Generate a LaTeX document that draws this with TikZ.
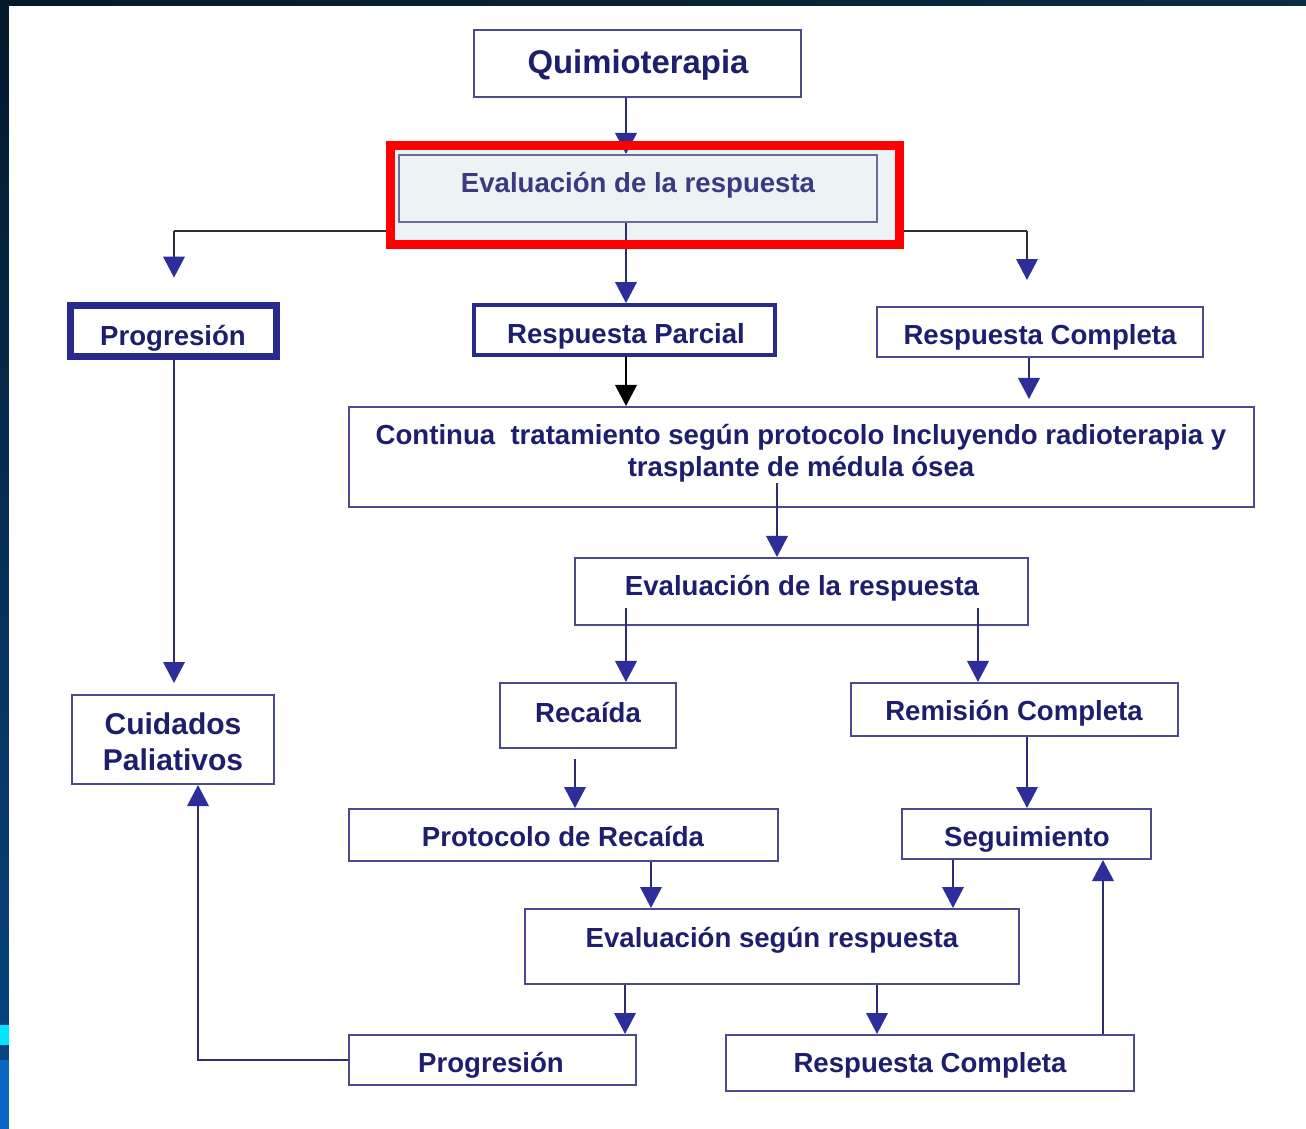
\documentclass[tikz,border=0pt]{standalone}
\usepackage{fontspec}
\setmainfont{Liberation Sans}
\usetikzlibrary{arrows.meta,fit,calc}

\definecolor{navytext}{HTML}{1E1E6E}
\definecolor{softtext}{HTML}{3A3A82}
\definecolor{boxline}{HTML}{4A4A8E}
\definecolor{boldline}{HTML}{2A2A8C}
\definecolor{arrowblue}{HTML}{2E2E9A}
\definecolor{linkline}{HTML}{2C2C70}
\definecolor{treeline}{HTML}{2E2E3A}
\definecolor{evalfill}{HTML}{EDF3F5}
\definecolor{evalline}{HTML}{6A6A9C}
\definecolor{slidedark}{HTML}{04182A}
\definecolor{slidetop}{HTML}{0A2C44}
\definecolor{stripblue}{HTML}{0A66C4}
\definecolor{stripcyan}{HTML}{00E6FF}
\definecolor{markred}{HTML}{FF0000}

\tikzset{
  box/.style={draw=boxline, line width=1.15pt, inner sep=0pt, rectangle},
  heavybox/.style={box, draw=boldline, line width=3.9pt},
  strongbox/.style={box, draw=boldline, line width=2.2pt},
  lbl/.style={anchor=base, inner sep=0pt, text=navytext,
    font=\bfseries\fontsize{15.7}{18}\selectfont},
  biglbl/.style={lbl, font=\bfseries\fontsize{18.7}{22}\selectfont},
  link/.style={draw=linkline, line width=1.15pt,
    -{Triangle[width=0.43cm,length=0.42cm,color=arrowblue]}},
  darklink/.style={link, draw=black, -{Triangle[width=0.43cm,length=0.42cm,color=black]}},
  treelink/.style={link, draw=treeline},
}

\begin{document}
\begin{tikzpicture}[x=0.02cm,y=-0.02cm]
\useasboundingbox (0,0) rectangle (1306,1129);

% slide frame behind the page
\fill[slidedark] (0,0) rectangle (1306,1129);
\shade[left color=slidedark, right color=slidetop] (0,0) rectangle (1306,6);
\shade[top color=slidedark, bottom color=stripblue!60!slidedark] (0,0) rectangle (9,1129);
\fill[stripcyan] (0,1025) rectangle (9,1045);
\fill[stripblue] (0,1060) rectangle (9,1129);
\fill[white] (9,6) rectangle (1306,1129);

% branching line under the first evaluation
\coordinate (split) at (626,231);
\coordinate (leftarm) at (174,231);
\coordinate (rightarm) at (1027,231);
\draw[treeline, line width=1.15pt] (leftarm) -- (rightarm);

% highlighted first evaluation
\node[fit={(390.5,145.5) (899.5,244.5)}, inner sep=0pt, fill=evalfill] (mark) {};

% boxes
\node[box, fit={(474,30) (801,97)}] (quim) {};
\node[box, draw=evalline, fill=evalfill, fit={(399,155) (877,222)}] (evt) {};
\node[heavybox, fit={(70.5,305.5) (276.5,356.5)}] (progt) {};
\node[strongbox, fit={(474,305) (775,355)}] (rp) {};
\node[box, fit={(877,307) (1203,357)}] (rct) {};
\node[box, fit={(349,407) (1254,507)}] (cont) {};
\node[box, fit={(575,558) (1028,625)}] (evm) {};
\node[box, fit={(500,683) (676,748)}] (rec) {};
\node[box, fit={(851,683) (1178,736)}] (rem) {};
\node[box, fit={(72,695) (274,784)}] (cuid) {};
\node[box, fit={(349,809) (778,861)}] (proto) {};
\node[box, fit={(902,809) (1151,859)}] (seg) {};
\node[box, fit={(525,909) (1019,984)}] (evs) {};
\node[box, fit={(349,1035) (636,1085)}] (progb) {};
\node[box, fit={(726,1035) (1134,1091)}] (rcb) {};

% labels
\node[biglbl] (quim-t) at (638,73) {Quimioterapia};
\node[lbl, text=softtext] (evt-t) at (638,192) {Evaluación de la respuesta};
\node[lbl] (progt-t) at (173,345) {Progresión};
\node[lbl] (rp-t) at (626,343) {Respuesta Parcial};
\node[lbl] (rct-t) at (1040,344) {Respuesta Completa};
\node[lbl] (cont-t1) at (801,444) {Continua\ \ tratamiento según protocolo Incluyendo radioterapia y};
\node[lbl] (cont-t2) at (801,476) {trasplante de médula ósea};
\node[lbl] (evm-t) at (802,595) {Evaluación de la respuesta};
\node[lbl] (rec-t) at (588,722) {Recaída};
\node[lbl] (rem-t) at (1014,720) {Remisión Completa};
\node[lbl, font=\bfseries\fontsize{17.1}{20}\selectfont] (cuid-t1) at (173,734) {Cuidados};
\node[lbl, font=\bfseries\fontsize{17.1}{20}\selectfont] (cuid-t2) at (173,770) {Paliativos};
\node[lbl] (proto-t) at (563,846) {Protocolo de Recaída};
\node[lbl] (seg-t) at (1027,846) {Seguimiento};
\node[lbl] (evs-t) at (772,947) {Evaluación según respuesta};
\node[lbl] (progb-t) at (491,1072) {Progresión};
\node[lbl] (rcb-t) at (930,1072) {Respuesta Completa};

% connectors
\draw[link] (quim.south -| 626,0) -- (evt.north -| 626,0);
\draw[treelink, shorten >=0.49cm] (leftarm) -- (progt.north -| 174,0);
\draw[treelink, shorten >=0.52cm] (rightarm) -- (rct.north -| 1027,0);
\draw[link] (evt.south -| 626,0) -- (rp.north -| 626,0);
\draw[darklink] (rp.south -| 626,0) -- (cont.north -| 626,0);
\draw[link, shorten >=0.14cm] (rct.south -| 1029,0) -- (cont.north -| 1029,0);
\draw[link] ($(cont.south -| 777,0)+(0,-25)$) -- (evm.north -| 777,0);
\draw[link] ($(evm.south -| 626,0)+(0,-18)$) -- (rec.north -| 626,0);
\draw[link] ($(evm.south -| 978,0)+(0,-18)$) -- (rem.north -| 978,0);
\draw[link, shorten <=0.2cm] (rec.south -| 575,0) -- (proto.north -| 575,0);
\draw[link] (rem.south -| 1027,0) -- (seg.north -| 1027,0);
\draw[link] (proto.south -| 651,0) -- (evs.north -| 651,0);
\draw[link] (seg.south -| 953,0) -- (evs.north -| 953,0);
\draw[link] (evs.south -| 625,0) -- (progb.north -| 625,0);
\draw[link] (evs.south -| 877,0) -- (rcb.north -| 877,0);
\draw[link] (rcb.north -| 1103,0) -- (seg.south -| 1103,0);
\draw[link] (progb.west) -| (cuid.south -| 198,0);
\draw[link, shorten >=0.22cm] (progt.south -| 174,0) -- (cuid.north -| 174,0);

% red highlight frame on top
\draw[markred, line width=5.1pt] (mark.north west) rectangle (mark.south east);
\end{tikzpicture}
\end{document}
